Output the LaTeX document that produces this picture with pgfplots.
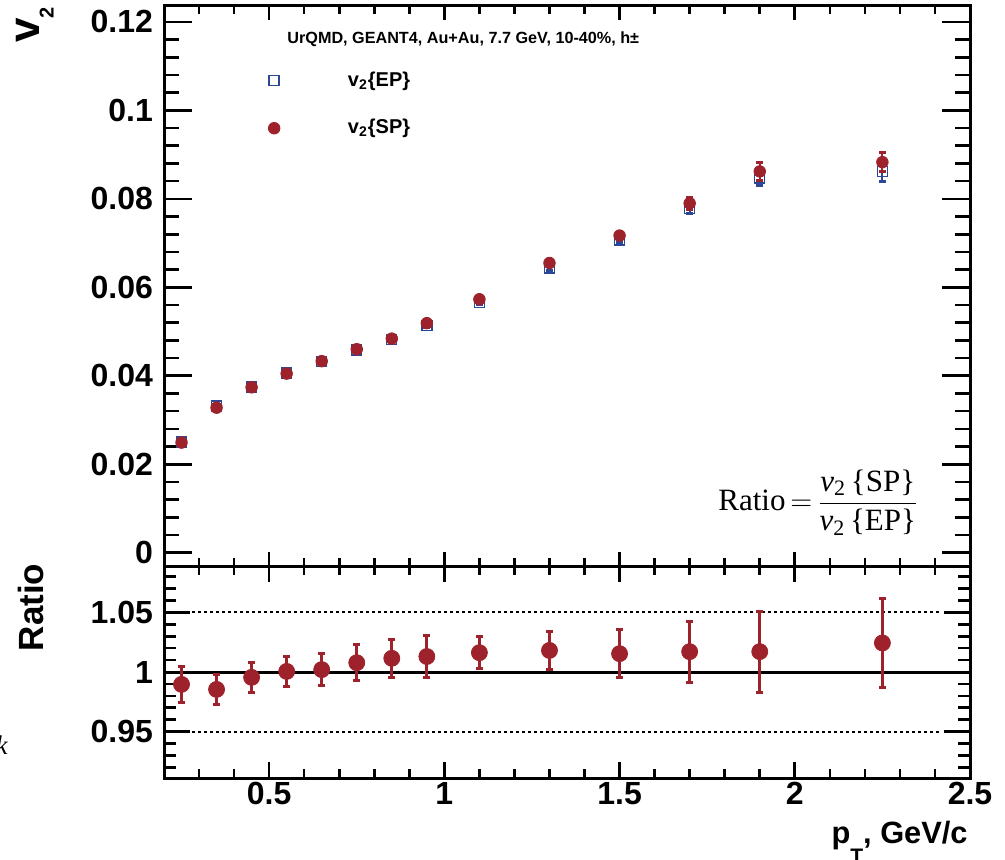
\documentclass[border=0pt]{standalone}
\usepackage{fontspec}
\setmainfont{Liberation Sans}
\newfontfamily\timesfont{Liberation Serif}
\usepackage{pgfplots}
\pgfplotsset{compat=1.18}
\definecolor{rred}{RGB}{158,34,43}
\definecolor{rblue}{RGB}{42,72,150}
\begin{document}
\begin{tikzpicture}
\useasboundingbox (0pt,0pt) rectangle (502.5pt,-430pt);
\pgfplotsset{
 rootframe/.style={
  scale only axis, width=403pt,
  xmin=0.2, xmax=2.5,
  tick align=inside, xtick pos=both, ytick pos=both,
  axis line style={line width=1.5pt},
  every tick/.append style={black, line width=1.3pt},
  ticklabel style={font=\fontsize{16}{18}\selectfont\bfseries},
  xticklabel style={yshift=1.5pt},
  yticklabel style={xshift=-2pt},
  scaled x ticks=false, scaled y ticks=false,
 },
 rootx/.style={
  xtick={0.5,1,1.5,2,2.5},
  minor xtick={0.3,0.4,0.6,0.7,0.8,0.9,1.1,1.2,1.3,1.4,1.6,1.7,1.8,1.9,2.1,2.2,2.3,2.4},
  ytick=\empty,
 },
}
% ================= top panel: y ticks (long)
\begin{axis}[rootframe, at={(82pt,-3pt)}, anchor=north west, height=280pt,
 ymin=-0.003, ymax=0.1236,
 xtick=\empty,
 ytick={0,0.02,0.04,0.06,0.08,0.1,0.12},
 yticklabels={0,0.02,0.04,0.06,0.08,0.1,0.12},
 minor y tick num=4,
 major tick length=14pt, minor tick length=7.3pt,
]
\end{axis}
% ================= top panel: x ticks + data
\begin{axis}[rootframe, rootx, at={(82pt,-3pt)}, anchor=north west, height=280pt,
 ymin=-0.003, ymax=0.1236,
 xticklabels={},
 major tick length=7pt, minor tick length=4pt,
 legend cell align=left,
 legend style={draw=none, fill=none, inner sep=0pt, row sep=11pt, column sep=32pt,
   at={(rel axis cs:0.129,0.8241)}, anchor=west,
   font=\fontsize{10}{11}\selectfont\bfseries},
]
\addplot[only marks, color=rblue, mark=square, mark size=2.5pt, mark options={line width=0.7pt},
 error bars/.cd, y dir=both, y explicit, error bar style={line width=1pt},
 error mark options={rotate=90, line width=1.5pt, mark size=1.7pt}]
 coordinates {
 (0.25,0.0250) +- (0,0.0003)
 (0.35,0.0332) +- (0,0.0003)
 (0.45,0.0375) +- (0,0.0003)
 (0.55,0.0406) +- (0,0.0003)
 (0.65,0.0432) +- (0,0.0003)
 (0.75,0.0458) +- (0,0.0004)
 (0.85,0.0482) +- (0,0.0004)
 (0.95,0.0514) +- (0,0.0004)
 (1.1,0.0566) +- (0,0.0004)
 (1.3,0.0644) +- (0,0.0005)
 (1.5,0.0707) +- (0,0.0006)
 (1.7,0.0778) +- (0,0.0012)
 (1.9,0.0847) +- (0,0.0017)
 (2.25,0.0862) +- (0,0.0023)
 };
\addlegendentry{v\textsubscript{2}\{EP\}}
\addplot[only marks, color=rred, mark=*, mark size=2.9pt,
 error bars/.cd, y dir=both, y explicit, error bar style={line width=1pt},
 error mark options={rotate=90, line width=1.5pt, mark size=1.7pt}]
 coordinates {
 (0.25,0.0249) +- (0,0.0003)
 (0.35,0.0328) +- (0,0.0003)
 (0.45,0.0374) +- (0,0.0003)
 (0.55,0.0405) +- (0,0.0003)
 (0.65,0.0433) +- (0,0.0003)
 (0.75,0.0460) +- (0,0.0004)
 (0.85,0.0484) +- (0,0.0004)
 (0.95,0.0519) +- (0,0.0004)
 (1.1,0.0573) +- (0,0.0004)
 (1.3,0.0655) +- (0,0.0005)
 (1.5,0.0717) +- (0,0.0006)
 (1.7,0.0790) +- (0,0.0013)
 (1.9,0.0862) +- (0,0.0021)
 (2.25,0.0883) +- (0,0.0022)
 };
\addlegendentry{v\textsubscript{2}\{SP\}}
\end{axis}
% ================= bottom panel: y ticks (long)
\begin{axis}[rootframe, at={(82pt,-283pt)}, anchor=north west, height=106pt,
 ymin=0.911, ymax=1.089,
 xtick=\empty,
 ytick={0.95,1,1.05},
 yticklabels={0.95,1,1.05},
 minor ytick={0.92,0.93,0.94,0.96,0.97,0.98,0.99,1.01,1.02,1.03,1.04,1.06,1.07,1.08},
 major tick length=13pt, minor tick length=6pt,
]
\end{axis}
% ================= bottom panel: x ticks + data
\begin{axis}[rootframe, rootx, at={(82pt,-283pt)}, anchor=north west, height=106pt,
 ymin=0.911, ymax=1.089,
 xticklabels={0.5,1,1.5,2,2.5},
 major tick length=7.8pt, minor tick length=4.3pt,
]
\addplot[black, line width=1.5pt] coordinates {(0.2,1) (2.5,1)};
\addplot[black, line width=1pt, dash pattern=on 1.5pt off 1.5pt] coordinates {(0.28,1.05) (2.42,1.05)};
\addplot[black, line width=1pt, dash pattern=on 1.5pt off 1.5pt] coordinates {(0.28,0.95) (2.42,0.95)};
\addplot[only marks, color=rred, mark=*, mark size=4pt,
 error bars/.cd, y dir=both, y explicit, error bar style={line width=1.5pt},
 error mark options={rotate=90, line width=1.5pt, mark size=1.8pt}]
 coordinates {
 (0.25,0.9896) +- (0,0.0151)
 (0.35,0.9854) +- (0,0.0126)
 (0.45,0.9955) +- (0,0.0123)
 (0.55,1.0005) +- (0,0.0125)
 (0.65,1.0020) +- (0,0.0133)
 (0.75,1.0078) +- (0,0.0150)
 (0.85,1.0115) +- (0,0.0160)
 (0.95,1.0130) +- (0,0.0175)
 (1.1,1.0162) +- (0,0.0133)
 (1.3,1.0181) +- (0,0.0157)
 (1.5,1.0154) +- (0,0.0200)
 (1.7,1.0171) +- (0,0.0256)
 (1.9,1.0171) +- (0,0.0340)
 (2.25,1.0244) +- (0,0.0375)
 };
\end{axis}
% ---------------- texts
\node[anchor=base west, inner sep=0pt, font=\fontsize{8.1}{9}\selectfont\bfseries] at (143.5pt,-21.7pt) {UrQMD, GEANT4, Au+Au, 7.7 GeV, 10-40\%, h±};
\node[anchor=base west, inner sep=0pt, font=\timesfont\fontsize{15.5}{18}\selectfont] at (359pt,-255.3pt)
 {Ratio$\,{=}\,\displaystyle\frac{\mbox{\itshape v\/}_{\mbox{\timesfont\fontsize{11}{11}\selectfont 2}}\,\mbox{\{SP\}}}{\mbox{\itshape v\/}_{\mbox{\timesfont\fontsize{11}{11}\selectfont 2}}\,\mbox{\{EP\}}}$};
\node[rotate=90, inner sep=0pt, font=\fontsize{22}{24}\selectfont\bfseries] at (17.5pt,-12.5pt) {v\raisebox{-7pt}{\fontsize{10}{10}\selectfont 2}};
\node[rotate=90, inner sep=0pt, font=\fontsize{17.5}{19}\selectfont\bfseries] at (15.25pt,-303.75pt) {Ratio};
\node[anchor=base east, inner sep=0pt, font=\fontsize{15.4}{17}\selectfont\bfseries] at (484pt,-421.5pt) {p\raisebox{-10pt}{\fontsize{10.5}{11}\selectfont T}, GeV/c};
\node[anchor=base east, inner sep=0pt, font=\timesfont\itshape\fontsize{13.5}{14}\selectfont] at (4pt,-377pt) {k};
\end{tikzpicture}
\end{document}
